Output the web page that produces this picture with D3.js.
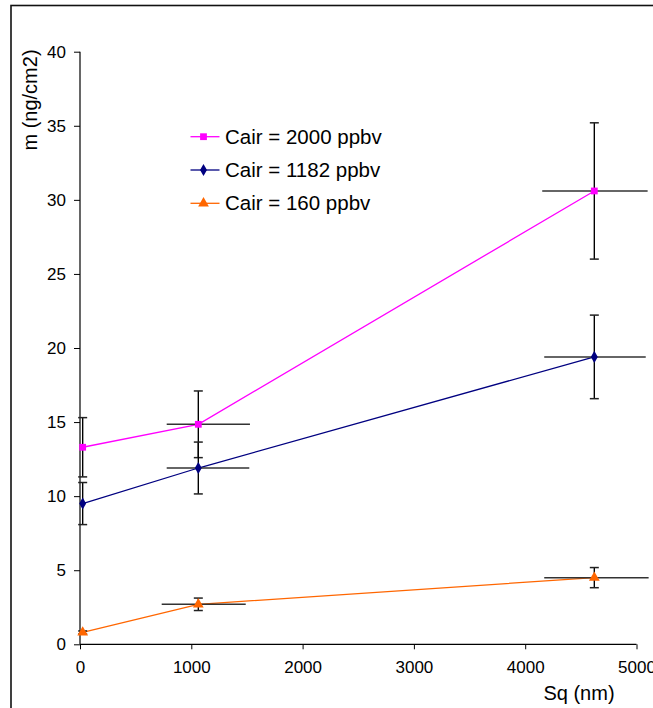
<!DOCTYPE html>
<html><head><meta charset="utf-8">
<script src="https://cdn.jsdelivr.net/npm/d3@7"></script>
<style>body{margin:0;background:#fff;}svg{display:block;font-family:"Liberation Sans",Arial,sans-serif;}</style>
</head><body>
<svg id="c" width="653" height="708"></svg>
<script>
const xValues = [24, 1063, 4621];
const seriesNames = ["Cair = 2000 ppbv", "Cair = 1182 ppbv", "Cair = 160 ppbv"];
const pinkY = [13.3, 14.85, 30.6];
const pinkErr = [2.0, 2.25, 4.6];
const pinkXLow = [24, 779, 4153];
const pinkXHigh = [24, 1527, 5100];
const blueY = [9.5, 11.9, 19.4];
const blueErr = [1.42, 1.75, 2.82];
const blueXLow = [24, 779, 4171];
const blueXHigh = [24, 1521, 5083];
const orangeY = [0.8, 2.7, 4.5];
const orangeErr = [0.1, 0.42, 0.68];
const orangeXLow = [24, 734, 4171];
const orangeXHigh = [24, 1489, 5109];
const xTicks = [0, 1000, 2000, 3000, 4000, 5000];
const yTicks = [0, 5, 10, 15, 20, 25, 30, 35, 40];

const series = [
  {name: seriesNames[0], y: pinkY, err: pinkErr, xl: pinkXLow, xh: pinkXHigh, color: "#FF00FF", sym: d3.symbolSquare, size: 46},
  {name: seriesNames[1], y: blueY, err: blueErr, xl: blueXLow, xh: blueXHigh, color: "#000080", sym: d3.symbolDiamond, size: 42},
  {name: seriesNames[2], y: orangeY, err: orangeErr, xl: orangeXLow, xh: orangeXHigh, color: "#FF6600", sym: d3.symbolTriangle, size: 50}
];

const svg = d3.select("#c");
const x = d3.scaleLinear().domain([0, 5000]).range([80, 636.5]);
const y = d3.scaleLinear().domain([0, 40]).range([644.3, 51.7]);

// frame
svg.append("rect").attr("x", 11).attr("y", 5.5).attr("width", 700).attr("height", 760)
  .attr("fill", "none").attr("stroke", "#111").attr("stroke-width", 1.6);

// axes
const gx = svg.append("g").attr("transform", `translate(0,${y(0)})`)
  .call(d3.axisBottom(x).tickValues(xTicks).tickSize(5).tickPadding(12).tickFormat(d3.format("d")));
const gy = svg.append("g").attr("transform", `translate(${x(0)},0)`)
  .call(d3.axisLeft(y).tickValues(yTicks).tickSize(6).tickPadding(8).tickFormat(d3.format("d")));
[gx, gy].forEach(g => {
  g.select(".domain").attr("stroke", "#000").attr("stroke-width", 1.2);
  g.selectAll(".tick line").attr("stroke", "#000").attr("stroke-width", 1);
  g.selectAll("text").attr("font-size", 17).attr("fill", "#000").attr("font-family", "Liberation Sans, Arial, sans-serif");
});
gx.select(".domain").attr("d", `M${x(0)},0H${x(5000)}`);
gy.select(".domain").attr("d", `M0,${y(40)}V${y(0)}`);

// titles
svg.append("text").attr("transform", `translate(37,100) rotate(-90)`).attr("text-anchor", "middle")
  .attr("font-size", 20).text("m (ng/cm2)");
svg.append("text").attr("x", 579).attr("y", 700).attr("text-anchor", "middle")
  .attr("font-size", 20).text("Sq (nm)");

// lines
series.forEach(s => {
  const pts = xValues.map((xv, i) => [x(xv), y(s.y[i])]);
  svg.append("path").attr("d", d3.line()(pts)).attr("fill", "none")
    .attr("stroke", s.color).attr("stroke-width", 1.3);
});

// error bars
series.forEach(s => {
  const g = svg.append("g");
  xValues.forEach((xv, i) => {
    const cx = x(xv), cy = y(s.y[i]);
    if (s.xh[i] > s.xl[i]) {
      g.append("line").attr("x1", x(s.xl[i])).attr("x2", x(s.xh[i])).attr("y1", cy).attr("y2", cy)
        .attr("stroke", "#333").attr("stroke-width", 1.5);
    }
    const top = y(s.y[i] + s.err[i]), bot = y(s.y[i] - s.err[i]);
    g.append("line").attr("x1", cx).attr("x2", cx).attr("y1", top).attr("y2", bot)
      .attr("stroke", "#000").attr("stroke-width", 1.4);
    [top, bot].forEach(v => g.append("line").attr("x1", cx - 4.5).attr("x2", cx + 4.5).attr("y1", v).attr("y2", v)
      .attr("stroke", "#222").attr("stroke-width", 1.5));
  });
});

// markers
series.forEach(s => {
  svg.append("g").selectAll("path").data(xValues).join("path")
    .attr("transform", (d, i) => `translate(${x(d)},${y(s.y[i])})`)
    .attr("d", d3.symbol().type(s.sym).size(s.size)).attr("fill", s.color);
});

// legend
const leg = svg.append("g");
series.forEach((s, i) => {
  const ly = 136.7 + i * 33.3;
  leg.append("line").attr("x1", 190.5).attr("x2", 219.5).attr("y1", ly).attr("y2", ly)
    .attr("stroke", s.color).attr("stroke-width", 1.3);
  leg.append("path").attr("transform", `translate(203.5,${ly})`)
    .attr("d", d3.symbol().type(s.sym).size(s.size)).attr("fill", s.color);
  leg.append("text").attr("x", 225).attr("y", ly + 7).attr("font-size", 20.5).text(s.name);
});
</script>
</body></html>
